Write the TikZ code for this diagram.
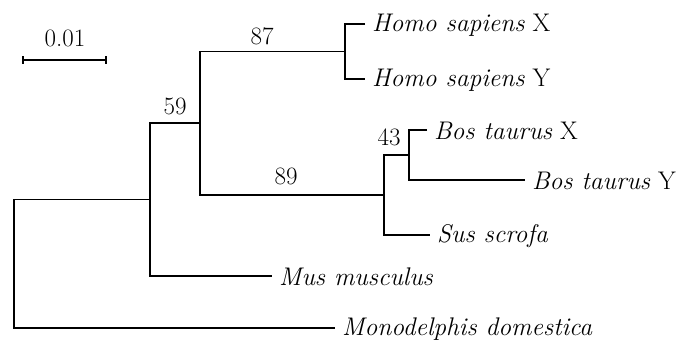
\documentclass[tikz,border=0pt]{standalone}
\begin{document}
\begin{tikzpicture}[x=1pt,y=-1pt,
  branch/.style={line width=1.8pt},
  taxon/.style={anchor=west,inner sep=0pt,xshift=7pt,yshift=-1pt,font=\fontsize{25.5}{30}\selectfont},
  support/.style={inner sep=0pt,font=\fontsize{25}{30}\selectfont}]
\useasboundingbox (0,0) rectangle (678,345);
% internal nodes
\coordinate (root) at (14,263.75);
\coordinate (n59) at (150,199.5);
\coordinate (nA) at (200,123.25);
\coordinate (n87) at (345,51.5);
\coordinate (n89) at (384,195);
\coordinate (n43) at (409,155);
% leaves
\coordinate (HX) at (365,24);
\coordinate (HY) at (365,79);
\coordinate (BX) at (427,130);
\coordinate (BY) at (525,180);
\coordinate (SS) at (430,235);
\coordinate (MM) at (272,276);
\coordinate (MD) at (335,328);
% branches
\draw[branch] (n59) -| (root) |- (MD);
\draw[branch] (nA) -| (n59) |- (MM);
\draw[branch] (n87) -| (nA) |- (n89);
\draw[branch] (HX) -| (n87) |- (HY);
\draw[branch] (n43) -| (n89) |- (SS);
\draw[branch] (BX) -| (n43) |- (BY);
% taxa
\node[taxon] (tHX) at (HX) {\textit{Homo sapiens} X};
\node[taxon] (tHY) at (HY) {\textit{Homo sapiens} Y};
\node[taxon] (tBX) at (BX) {\textit{Bos taurus} X};
\node[taxon] (tBY) at (BY) {\textit{Bos taurus} Y};
\node[taxon] (tSS) at (SS) {\textit{Sus scrofa}};
\node[taxon] (tMM) at (MM) {\textit{Mus musculus}};
\node[taxon] (tMD) at (MD) {\textit{Monodelphis domestica}};
% support values
\node[support] (s87) at (262,36) {87};
\node[support] (s59) at (175,106) {59};
\node[support] (s89) at (286,176) {89};
\node[support] (s43) at (389,137) {43};
% scale bar
\coordinate (sbL) at (23,60);
\coordinate (sbR) at (106,60);
\draw[branch] (sbL) -- (sbR);
\draw[branch] ([yshift=-4pt]sbL) -- ([yshift=4pt]sbL);
\draw[branch] ([yshift=-4pt]sbR) -- ([yshift=4pt]sbR);
\node[support] (sbl) at (65,38) {0.01};
\end{tikzpicture}
\end{document}
